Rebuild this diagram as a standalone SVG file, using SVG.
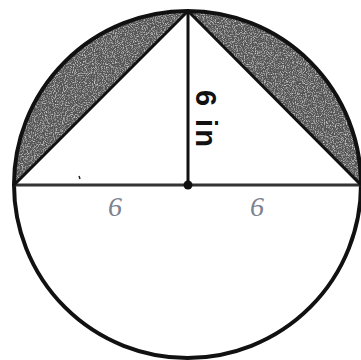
<svg xmlns="http://www.w3.org/2000/svg" width="361" height="360" viewBox="0 0 361 360">
  <style>
    .ln { stroke: #111; stroke-width: 3; fill: none; stroke-linecap: round; }
    .diam { stroke: #333; stroke-width: 3; fill: none; }
    .shade { fill: #555; filter: url(#grain); }
    .lbl { font-family: "Liberation Sans", Arial, sans-serif; font-weight: bold; font-size: 29px; fill: #111; }
    .hand { font-family: "Liberation Serif", serif; font-style: italic; font-size: 28px; fill: #7c828f; }
  </style>
  <defs>
    <filter id="grain" x="0" y="0" width="100%" height="100%">
      <feTurbulence type="fractalNoise" baseFrequency="0.9" numOctaves="2" seed="4" result="n"/>
      <feColorMatrix in="n" type="matrix" values="0 0 0 0 0.95  0 0 0 0 0.95  0 0 0 0 0.95  0 0 0 1.6 -0.75" result="speck"/>
      <feComposite in="speck" in2="SourceGraphic" operator="in" result="sp"/>
      <feMerge><feMergeNode in="SourceGraphic"/><feMergeNode in="sp"/></feMerge>
    </filter>
  </defs>
  <rect width="361" height="360" fill="#fff"/>
  <g id="shaded-segments">
    <path class="shade" d="M14,185 L188,11 A173.5,173.5 0 0 0 14,185 Z"/>
    <path class="shade" d="M188,11 L361,185 A173.5,173.5 0 0 0 188,11 Z"/>
  </g>
  <g id="circle">
    <circle cx="187.5" cy="184.5" r="173.5" fill="none" stroke="#111" stroke-width="4"/>
  </g>
  <g id="connectors">
    <line class="diam" x1="13" y1="185" x2="361" y2="185"/>
    <line class="ln" x1="14" y1="185" x2="188" y2="11"/>
    <line class="ln" x1="188" y1="11" x2="361" y2="185"/>
    <line class="ln" x1="188" y1="11" x2="188" y2="185"/>
    <line x1="79" y1="176" x2="80" y2="179" stroke="#222" stroke-width="1.5"/>
  </g>
  <g id="center">
    <circle cx="188" cy="185" r="4.5" fill="#111"/>
  </g>
  <g id="labels">
    <text class="lbl" transform="translate(196,90) rotate(90)" textLength="57" lengthAdjust="spacing">6 in</text>
    <text class="hand" x="108" y="216">6</text>
    <text class="hand" x="250" y="216">6</text>
  </g>
</svg>
